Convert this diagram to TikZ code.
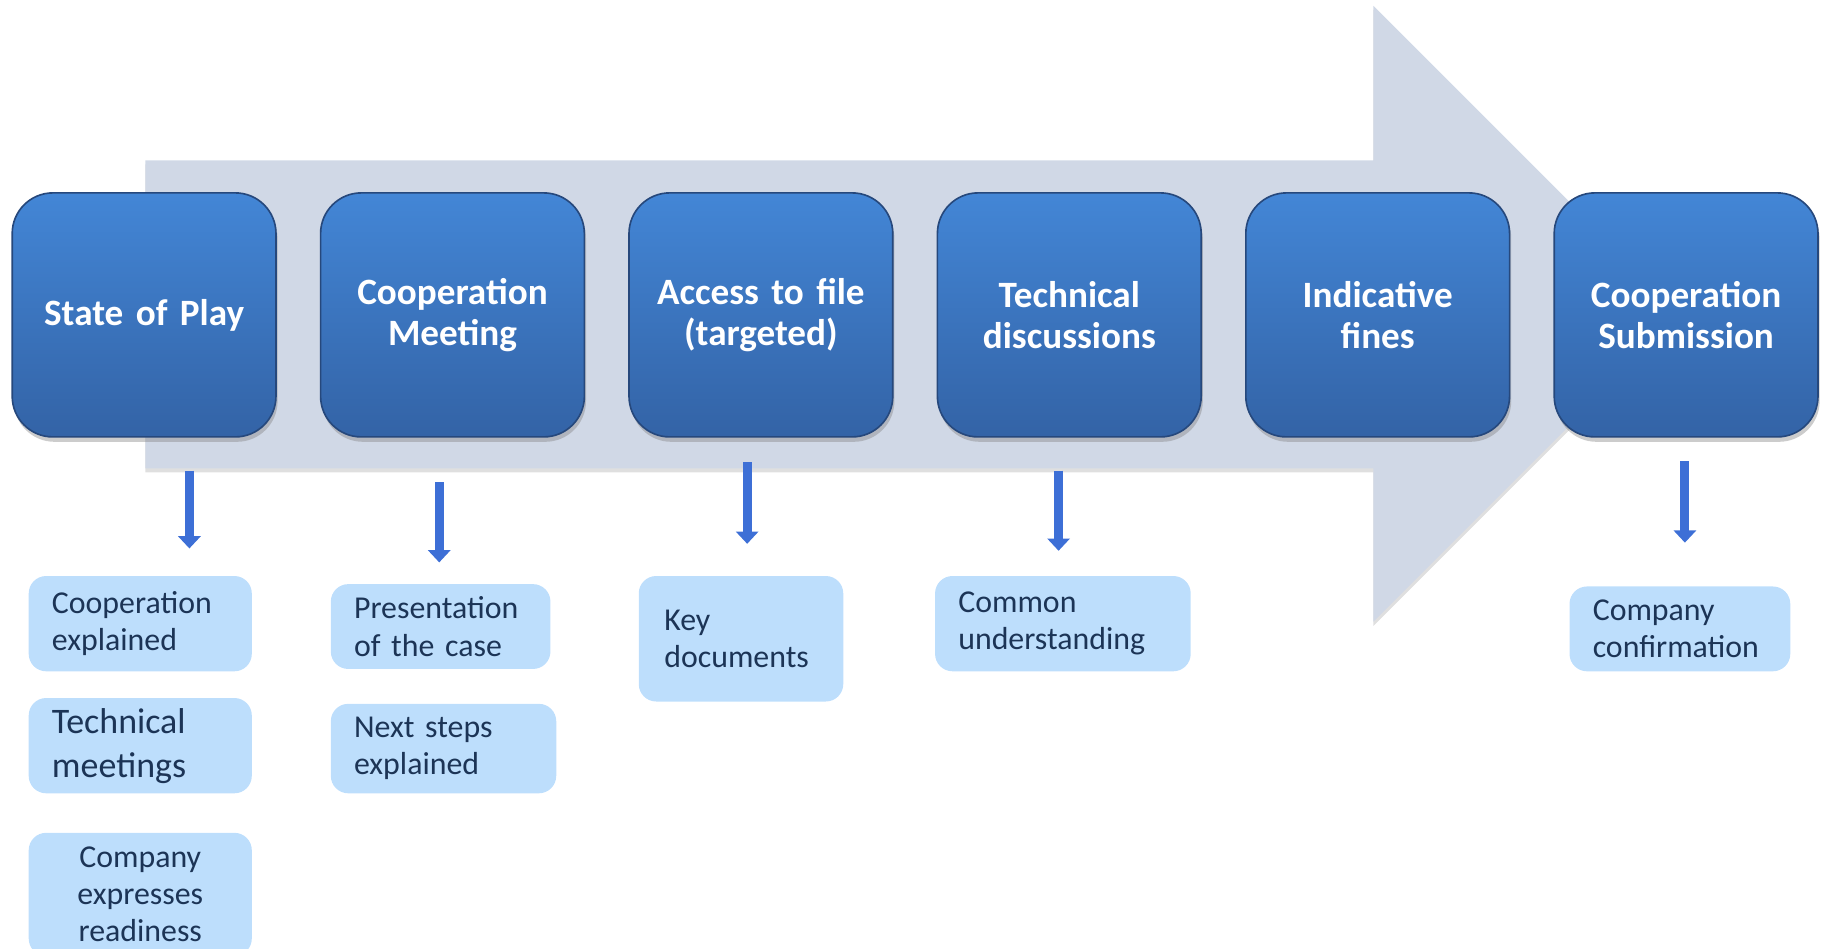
\documentclass[tikz,border=0pt]{standalone}
\usepackage{fontspec}
\setmainfont{Carlito}[WordSpace=0.6]
\usetikzlibrary{arrows.meta, positioning, shadows}
\definecolor{caseBlueTop}{RGB}{67, 134, 214}
\definecolor{caseBlueBot}{RGB}{51, 99, 166}
\definecolor{caseEdge}{RGB}{38, 72, 124}
\definecolor{caseGray}{RGB}{208, 216, 230}
\definecolor{caseLight}{RGB}{189, 222, 252}
\definecolor{caseNavy}{RGB}{28, 52, 86}
\definecolor{caseArrow}{RGB}{61, 111, 214}

\begin{document}
\begin{tikzpicture}[
    stage/.style={rectangle, rounded corners=3.5mm, draw=caseEdge, line width=0.4pt,
      top color=caseBlueTop, bottom color=caseBlueBot,
      minimum width=2.27cm, minimum height=2.1cm, text width=1.9cm, align=center,
      text=white, font=\fontsize{9.1}{10}\selectfont\bfseries,
      drop shadow={opacity=0.4, shadow xshift=0.4pt, shadow yshift=-1.2pt}},
    detail/.style={rectangle, rounded corners=1.5mm, fill=caseLight, text=caseNavy,
      anchor=north west, align=left, inner xsep=2mm, inner ysep=0pt,
      font=\fontsize{7.8}{9.1}\selectfont},
    godown/.style={-{Triangle[width=5.4pt, length=3pt]}, line width=2.2pt, caseArrow}
  ]
  \useasboundingbox (0,0) rectangle (15.68,8.16);

  % Big arrow
  \fill[caseGray, drop shadow={opacity=0.25, shadow xshift=0pt, shadow yshift=-1pt}]
    (1.25,6.78) -- (11.82,6.78) -- (11.82,8.11) -- (14.47,5.46)
    -- (11.82,2.81) -- (11.82,4.13) -- (1.25,4.13) -- cycle;

  % Stages
  \node[stage] (play) at (1.24,5.45) {State of Play};
  \node[stage, right=0.37cm of play] (meet) {Cooperation\\Meeting};
  \node[stage, right=0.37cm of meet] (access) {Access to file\\(targeted)};
  \node[stage, right=0.37cm of access] (tech) {Technical\\discussions};
  \node[stage, right=0.37cm of tech] (fines) {Indicative\\fines};
  \node[stage, right=0.37cm of fines] (submit) {Cooperation\\Submission};

  % Details
  \node[detail, text width=1.52cm, minimum height=0.82cm] (explain) at (0.24,3.21) {Cooperation\\explained};
  \node[detail, text width=1.52cm, minimum height=0.82cm, font=\fontsize{8.8}{10.8}\selectfont] (techmeet) at (0.24,2.16) {Technical\\meetings};
  \node[detail, text width=1.52cm, minimum height=1.06cm, align=center] (ready) at (0.24,1.00) {Company\\expresses\\readiness};
  \node[detail, text width=1.49cm, minimum height=0.73cm] (present) at (2.84,3.14) {Presentation\\of the case};
  \node[detail, text width=1.54cm, minimum height=0.77cm] (nextsteps) at (2.84,2.11) {Next steps\\explained};
  \node[detail, text width=1.32cm, minimum height=1.08cm, inner xsep=2.2mm] (keydocs) at (5.49,3.21) {Key\\documents};
  \node[detail, text width=1.80cm, minimum height=0.82cm] (common) at (8.04,3.21) {Common\\understanding};
  \node[detail, text width=1.50cm, minimum height=0.73cm] (confirm) at (13.50,3.12) {Company\\confirmation};

  % Down arrows
  \foreach \x/\ya/\yb [count=\i] in {1.63/4.11/3.44, 3.78/4.01/3.32, 6.43/4.18/3.48, 9.11/4.11/3.42, 14.50/4.19/3.49} {
    \coordinate (s\i) at (\x,\ya);
    \coordinate (e\i) at (\x,\yb);
    \draw[godown] (s\i) -- (e\i);
  }
\end{tikzpicture}
\end{document}
